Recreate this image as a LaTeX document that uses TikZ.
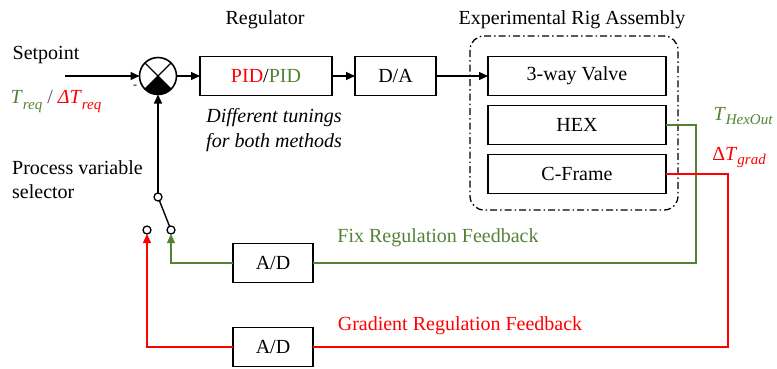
\documentclass[tikz,border=0pt]{standalone}
\usepackage{fontspec}
\setmainfont{Liberation Serif}
\usetikzlibrary{arrows.meta,positioning}
\definecolor{fixgreen}{RGB}{84,130,53}
\definecolor{gradred}{RGB}{255,0,0}
\definecolor{slashgrey}{RGB}{90,90,90}

\newcommand{\lowidx}[2][-6pt]{\raisebox{#1}{\fontsize{15}{15}\selectfont\itshape #2}}

\tikzset{
    blockbox/.style={draw, line width=1.6pt, outer sep=0pt, minimum height=39pt,
        font=\fontsize{20}{24}\selectfont},
    lbl/.style={inner sep=0pt, font=\fontsize{20}{24}\selectfont},
    conn/.style={line width=1.4pt, -{Triangle[length=9pt,width=8pt]}},
    contact/.style={circle, draw, line width=1.3pt, minimum size=8pt, inner sep=0pt, outer sep=0pt, fill=white},
}

\begin{document}
\begin{tikzpicture}[x=1pt, y=1pt]

    \useasboundingbox (0,0) rectangle (777,-368);

    % 1. Summing junction with the filled lower quarter
    \node (sum) at (158,-76) [circle, draw, line width=1.6pt, outer sep=0pt,
        minimum size=37pt, inner sep=0pt] {};
    \fill (sum.center) -- (sum.-135) arc[start angle=-135, end angle=-45, radius=18.5pt] -- cycle;
    \draw[line width=1.4pt] (sum.45) -- (sum.-135) (sum.135) -- (sum.-45);
    \node (minus) at (135,-87) [lbl, font=\fontsize{12}{12}\selectfont] {-};

    % setpoint input
    \node (setlbl) at (46,-55) [lbl] {Setpoint};
    \node (reqlbl) at (56,-101) [lbl] {\textcolor{fixgreen}{\textit{T}\lowidx{req}}
        \textcolor{slashgrey}{/} \textcolor{gradred}{\textit{ΔT}\lowidx{req}}};
    \coordinate (spin) at (65,-76);
    \draw[conn] (spin) -- (sum.west);

    % 2. Regulator and D/A
    \node (pid) at (266,-76) [blockbox, minimum width=132pt]
        {\textcolor{gradred}{PID}/\textcolor{fixgreen}{PID}};
    \node (reglbl) at (265,-20) [lbl] {Regulator};
    \node (tune) at (274,-130) [lbl, align=center, font=\fontsize{20}{25}\selectfont\itshape]
        {Different tunings\\for both methods};
    \node (da) [blockbox, minimum width=81pt, right=23pt of pid] {D/A};

    \draw[conn] (sum.east) -- (pid.west);
    \draw[conn] (pid) -- (da);

    % 3. Experimental rig
    \draw[line width=1.3pt, dash pattern=on 7pt off 3pt on 1.5pt off 3pt, rounded corners=14pt]
        (470,-36) rectangle (678,-210);
    \node (riglbl) at (572,-20) [lbl] {Experimental Rig Assembly};
    \node (valve) at (577,-76) [blockbox, minimum width=178pt] {3-way Valve};
    \node (hex) [blockbox, minimum width=178pt, below=10pt of valve] {HEX};
    \node (cframe) [blockbox, minimum width=178pt, below=10pt of hex] {C-Frame};

    \draw[conn] (da) -- (valve);

    \node (hexlbl) at (743,-116) [lbl, text=fixgreen] {\textit{T}\lowidx[-4pt]{HexOut}};
    \node (gradlbl) at (739,-157) [lbl, text=gradred] {Δ\textit{T}\lowidx[-4pt]{grad}};

    % 4. Process variable selector
    \node (sellbl) at (12,-180) [lbl, anchor=west, align=left] {Process variable\\selector};
    \node (pivot) at (158,-197) [contact] {};
    \node (fixin) at (171,-230) [contact] {};
    \node (gradin) at (147,-230) [contact] {};
    \draw[conn] (pivot) -- (sum);
    \draw[line width=1.4pt] (pivot) -- (fixin);

    % 5. Feedback paths
    \node (ad1) at (273,-263) [blockbox, minimum width=80pt] {A/D};
    \node (ad2) at (273,-347) [blockbox, minimum width=80pt] {A/D};
    \node (fixlbl) at (438,-238) [lbl, text=fixgreen] {Fix Regulation Feedback};
    \node (gradfb) at (460,-326) [lbl, text=gradred] {Gradient Regulation Feedback};

    \coordinate (fixturn) at (696,-263);
    \coordinate (gradturn) at (728,-347);
    \draw[fixgreen, line width=1.3pt] (hex.east) -| (fixturn) -- (ad1.east);
    \draw[conn, fixgreen, line width=1.3pt] (ad1.west) -| (fixin.south);
    \draw[gradred, line width=1.3pt] (cframe.east) -| (gradturn) -- (ad2.east);
    \draw[conn, gradred, line width=1.3pt] (ad2.west) -| (gradin.south);

\end{tikzpicture}
\end{document}
